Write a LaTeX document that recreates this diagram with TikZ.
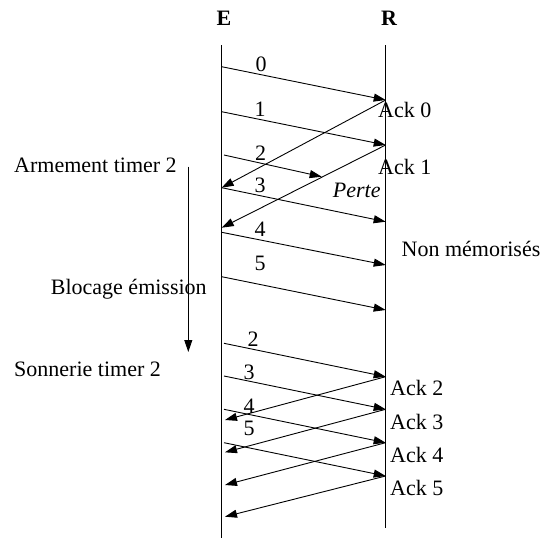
\documentclass[tikz,border=0pt]{standalone}
\usepackage{fontspec}
\setmainfont{Liberation Serif}
\usetikzlibrary{arrows.meta}
\tikzset{
  msg/.style={line width=0.9pt,-{Triangle[length=12pt,width=8pt]}},
  life/.style={line width=0.9pt},
  lbl/.style={inner sep=0pt,font=\fontsize{22}{26}\selectfont},
}
\begin{document}
\begin{tikzpicture}[x=1pt,y=-1pt]
\useasboundingbox (0,0) rectangle (542,538);
% lifelines
\coordinate (Etop) at (221.7,45);
\coordinate (Ebot) at (221.7,538);
\coordinate (Rtop) at (385.7,45);
\coordinate (Rbot) at (385.7,528);
\draw[life] (Etop) -- (Ebot);
\draw[life] (Rtop) -- (Rbot);
\node[lbl,font=\fontsize{22}{26}\selectfont\bfseries] (E) at (224,18) {E};
\node[lbl,font=\fontsize{22}{26}\selectfont\bfseries] (R) at (389,18) {R};
% points
\coordinate (s0) at (221.7,66.7);  \coordinate (d0) at (385.7,100);
\coordinate (a0) at (221.7,187.7);
\coordinate (s1) at (221.7,111.7); \coordinate (d1) at (385.7,145);
\coordinate (a1) at (221.7,227.7);
\coordinate (s2) at (224,155);     \coordinate (d2) at (321.7,176.7);
\coordinate (d3) at (385.7,221.7);
\coordinate (s4) at (221.7,232.3); \coordinate (d4) at (385.7,265);
\coordinate (s5) at (221.7,276.7); \coordinate (d5) at (385.7,310);
% first round
\draw[msg] (s0) -- (d0);
\draw[msg] (d0) -- (a0);
\draw[msg] (s1) -- (d1);
\draw[msg] (d1) -- (a1);
\draw[msg] (s2) -- (d2);
\draw[msg] (a0) -- (d3);
\draw[msg] (s4) -- (d4);
\draw[msg] (s5) -- (d5);
\node[lbl] (l0) at (261,64) {0};
\node[lbl] (l1) at (260,109) {1};
\node[lbl] (l2) at (260.7,153) {2};
\node[lbl] (l3) at (260,185) {3};
\node[lbl] (l4) at (260,229) {4};
\node[lbl] (l5) at (260,263) {5};
\node[lbl,anchor=west] (ack0) at (378,110) {Ack 0};
\node[lbl,anchor=west] (ack1) at (378,166.7) {Ack 1};
\node[lbl,font=\fontsize{22}{26}\selectfont\itshape] (perte) at (356.7,190) {Perte};
\node[lbl] (nonmem) at (471,249) {Non mémorisés};
% timer
\node[lbl,anchor=west] (arm) at (14,165) {Armement timer 2};
\node[lbl,anchor=west] (bloc) at (50.7,289) {Blocage émission};
\node[lbl,anchor=west] (sonn) at (14,369.3) {Sonnerie timer 2};
\coordinate (t0) at (188.3,166.7);
\coordinate (t1) at (188.3,352);
\draw[msg] (t0) -- (t1);
% retransmission
\coordinate (u2) at (224,343.3); \coordinate (v2) at (385.7,376.7);
\coordinate (u3) at (224,376);   \coordinate (v3) at (385.7,409.3);
\coordinate (u4) at (224,409.3); \coordinate (v4) at (385.7,442.7);
\coordinate (u5) at (224,442.7); \coordinate (v5) at (385.7,476);
\coordinate (b2) at (225,420);
\coordinate (b3) at (225,452.3);
\coordinate (b4) at (225,485);
\coordinate (b5) at (225,516.7);
\draw[msg] (u2) -- (v2);
\draw[msg] (u3) -- (v3);
\draw[msg] (u4) -- (v4);
\draw[msg] (u5) -- (v5);
\draw[msg] (v2) -- (b2);
\draw[msg] (v3) -- (b3);
\draw[msg] (v4) -- (b4);
\draw[msg] (v5) -- (b5);
\node[lbl] (m2) at (253,339) {2};
\node[lbl] (m3) at (249,372.7) {3};
\node[lbl] (m4) at (249,406) {4};
\node[lbl] (m5) at (249,428) {5};
\node[lbl,anchor=west] (ack2) at (390,388.3) {Ack 2};
\node[lbl,anchor=west] (ack3) at (390,421.7) {Ack 3};
\node[lbl,anchor=west] (ack4) at (390,455) {Ack 4};
\node[lbl,anchor=west] (ack5) at (390,488) {Ack 5};
\end{tikzpicture}
\end{document}
